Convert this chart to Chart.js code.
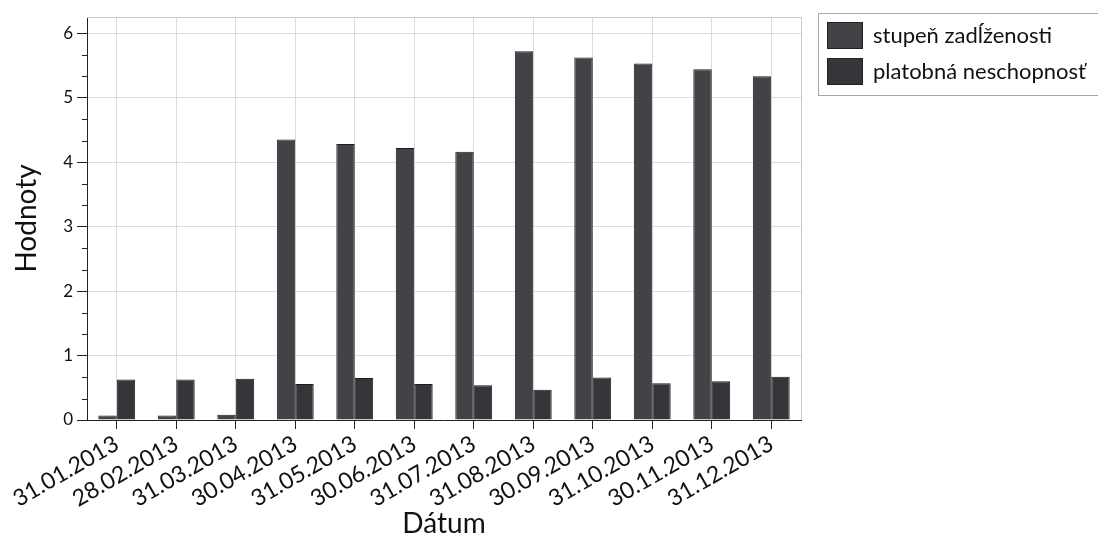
<!DOCTYPE html>
<html>
<head>
<meta charset="utf-8">
<script src="https://cdn.jsdelivr.net/npm/chart.js@4.4.0/dist/chart.umd.min.js"></script>
<style>
  body { margin: 0; background: #fff; }
  canvas { display: block; }
</style>
</head>
<body>
<canvas id="debtChart" width="1098" height="555"></canvas>
<script>
// Data
const dates = ['31.01.2013', '28.02.2013', '31.03.2013', '30.04.2013', '31.05.2013', '30.06.2013',
  '31.07.2013', '31.08.2013', '30.09.2013', '31.10.2013', '30.11.2013', '31.12.2013'];
const stupenZadlzenosti = [0.07, 0.07, 0.08, 4.35, 4.28, 4.22, 4.16, 5.72, 5.62, 5.53, 5.44, 5.33];
const platobnaNeschopnost = [0.63, 0.63, 0.64, 0.56, 0.65, 0.56, 0.54, 0.47, 0.66, 0.57, 0.60, 0.67];
const seriesNames = ['stupeň zadĺženosti', 'platobná neschopnosť'];
const yTicks = [0, 1, 2, 3, 4, 5, 6];
const yMax = 6.25;

const fontFamily = 'Lato, "DejaVu Sans", sans-serif';
const barColors = ['#414347', '#34363a'];

// plot frame (top + right edge) and minor y ticks
const framePlugin = {
  id: 'frame',
  beforeDatasetsDraw(chart) {
    const { ctx, chartArea: a } = chart;
    ctx.save();
    ctx.strokeStyle = '#c8c8c8';
    ctx.lineWidth = 1;
    ctx.beginPath();
    ctx.moveTo(a.left, a.top + 0.5);
    ctx.lineTo(a.right + 0.5, a.top + 0.5);
    ctx.lineTo(a.right + 0.5, a.bottom);
    ctx.stroke();
    ctx.restore();
  },
  afterDraw(chart) {
    const { ctx, chartArea: a } = chart;
    const y = chart.scales.y;
    ctx.save();
    ctx.strokeStyle = '#222';
    ctx.lineWidth = 1;
    ctx.beginPath();
    for (let v = 0; v < 6; v++) {
      [1 / 3, 2 / 3].forEach(f => {
        const py = Math.round(y.getPixelForValue(v + f)) + 0.5;
        ctx.moveTo(a.left - 5, py);
        ctx.lineTo(a.left, py);
      });
    }
    ctx.stroke();
    ctx.restore();
  }
};

// legend box on the right
const legendPlugin = {
  id: 'boxLegend',
  afterDraw(chart) {
    const ctx = chart.ctx;
    const x = 818, y = 13, w = 300, h = 82;
    ctx.save();
    ctx.strokeStyle = '#a8a8a8';
    ctx.lineWidth = 1;
    ctx.strokeRect(x + 0.5, y + 0.5, w, h);
    ctx.font = '22px ' + fontFamily;
    ctx.textBaseline = 'middle';
    chart.data.datasets.forEach((ds, i) => {
      const sy = y + 9 + i * 36;
      ctx.fillStyle = ds.backgroundColor;
      ctx.fillRect(x + 9, sy, 36, 27);
      ctx.strokeStyle = '#222';
      ctx.strokeRect(x + 9.5, sy + 0.5, 35, 26);
      ctx.fillStyle = '#111';
      ctx.fillText(ds.label, x + 55, sy + 14);
    });
    ctx.restore();
  }
};

const ctx = document.getElementById('debtChart').getContext('2d');
const debtChart = new Chart(ctx, {
  type: 'bar',
  data: {
    labels: dates,
    datasets: [{
      label: seriesNames[0],
      data: stupenZadlzenosti,
      backgroundColor: barColors[0],
      borderColor: '#1c1c1c',
      borderWidth: 1
    }, {
      label: seriesNames[1],
      data: platobnaNeschopnost,
      backgroundColor: barColors[1],
      borderColor: '#1c1c1c',
      borderWidth: 1
    }]
  },
  options: {
    responsive: false,
    animation: false,
    layout: { padding: { top: 17, right: 297, left: 0, bottom: 14 } },
    datasets: {
      bar: { categoryPercentage: 0.62, barPercentage: 1 }
    },
    plugins: {
      legend: { display: false },
      tooltip: { enabled: false }
    },
    scales: {
      x: {
        grid: {
          offset: false,
          color: '#dcdcdc',
          tickColor: '#222',
          tickLength: 9
        },
        border: { color: '#222', width: 1 },
        ticks: {
          autoSkip: false,
          minRotation: 30,
          maxRotation: 30,
          color: '#111',
          padding: 1,
          font: { family: fontFamily, size: 23 }
        },
        title: {
          display: true,
          text: 'Dátum',
          color: '#111',
          font: { family: fontFamily, size: 28 },
          padding: 0
        },
        afterFit(scale) { scale.height = 555 - 420 - 14; }
      },
      y: {
        min: 0,
        max: yMax,
        afterBuildTicks(scale) { scale.ticks = yTicks.map(v => ({ value: v })); },
        ticks: {
          color: '#111',
          padding: 4,
          font: { family: fontFamily, size: 17 }
        },
        grid: {
          color: '#dcdcdc',
          tickColor: '#222',
          tickLength: 10
        },
        border: { color: '#222', width: 1 },
        title: {
          display: true,
          text: 'Hodnoty',
          color: '#111',
          font: { family: fontFamily, size: 28 },
          padding: { top: 10, bottom: 0 }
        },
        afterFit(scale) { scale.width = 87; }
      }
    }
  },
  plugins: [framePlugin, legendPlugin]
});
</script>
</body>
</html>
